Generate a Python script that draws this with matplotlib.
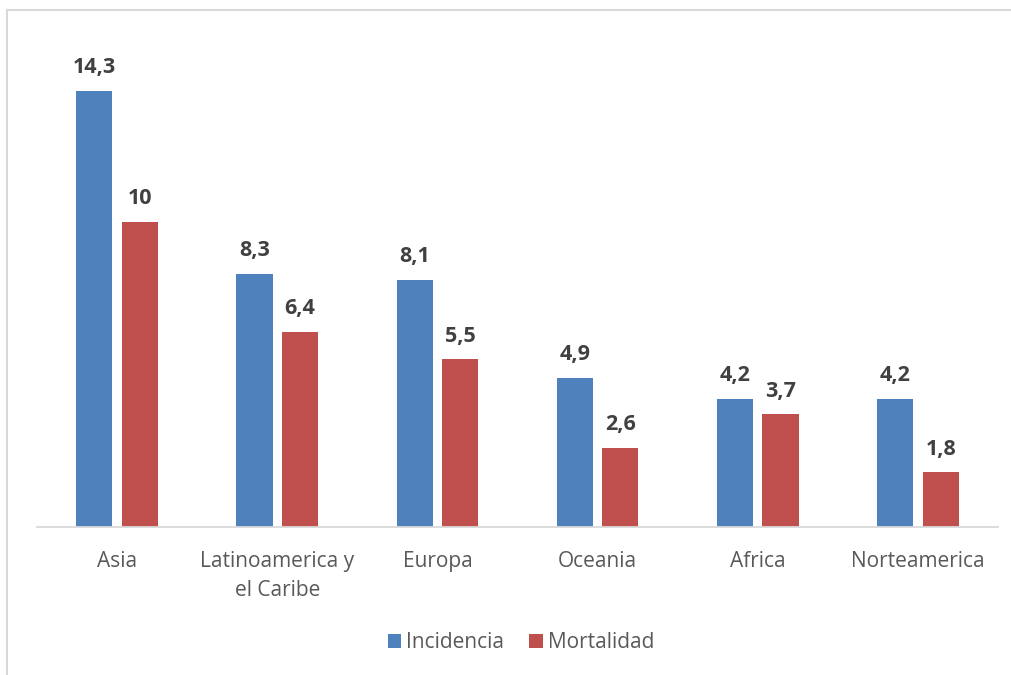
import matplotlib.pyplot as plt
import numpy as np
from matplotlib.lines import Line2D

plt.rcParams['font.family'] = ['Open Sans', 'DejaVu Sans']

regiones = ['Asia', 'Latinoamerica y\nel Caribe', 'Europa', 'Oceania', 'Africa', 'Norteamerica']
incidencia = [14.3, 8.3, 8.1, 4.9, 4.2, 4.2]
mortalidad = [10, 6.4, 5.5, 2.6, 3.7, 1.8]

AZUL = '#4F81BD'
ROJO = '#C0504D'
GRIS = '#D9D9D9'


def fmt(v):
    s = f'{v:.1f}'.replace('.', ',')
    return s[:-2] if s.endswith(',0') else s


fig = plt.figure(figsize=(10.12, 6.75), dpi=100)
ax = fig.add_axes([37 / 1012, 148 / 675, 961 / 1012, 488 / 675])

x = np.arange(len(regiones))
w = 0.225
b1 = ax.bar(x - 0.142, incidencia, w, color=AZUL, label='Incidencia')
b2 = ax.bar(x + 0.142, mortalidad, w, color=ROJO, label='Mortalidad')

for bars, vals in ((b1, incidencia), (b2, mortalidad)):
    for rect, v in zip(bars, vals):
        ax.annotate(fmt(v), (rect.get_x() + rect.get_width() / 2, v),
                    xytext=(0, 9), textcoords='offset points',
                    ha='center', va='bottom', fontsize=15.5,
                    fontweight='bold', color='#404040')

ax.set_xlim(-0.5, len(regiones) - 0.5)
ax.set_ylim(0, 16)
ax.set_xticks(x)
ax.set_xticklabels(regiones, fontsize=15, color='#595959', linespacing=1.5)
ax.tick_params(axis='x', length=0, pad=17)
ax.set_yticks([])
for side in ('top', 'right', 'left'):
    ax.spines[side].set_visible(False)
ax.spines['bottom'].set_color(GRIS)
ax.spines['bottom'].set_linewidth(1.3)

fig.legend(handles=[b1, b2], labels=['Incidencia', 'Mortalidad'],
           loc='center', bbox_to_anchor=(521 / 1012, 1 - 643 / 675), ncol=2,
           frameon=False, fontsize=15, labelcolor='#595959',
           handlelength=0.65, handleheight=0.65, handletextpad=0.25,
           columnspacing=1.2)

# chart frame
fig.add_artist(Line2D([7 / 1012, 7 / 1012], [0, 1 - 10 / 675],
                      transform=fig.transFigure, color=GRIS, lw=1.5))
fig.add_artist(Line2D([7 / 1012, 1], [1 - 10 / 675, 1 - 10 / 675],
                      transform=fig.transFigure, color=GRIS, lw=1.5))

fig.savefig('out.png', dpi=100)
